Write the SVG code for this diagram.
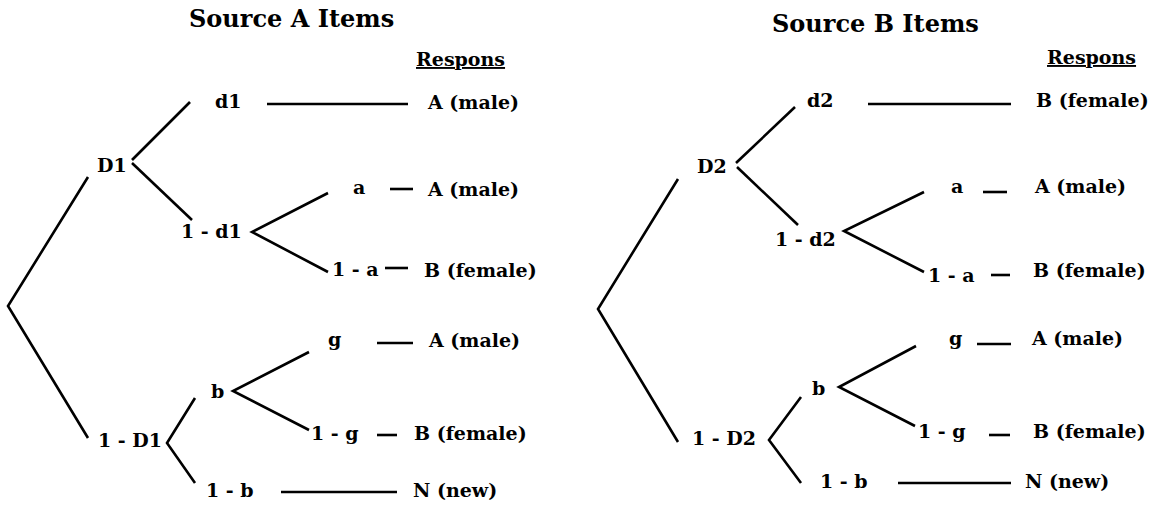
<svg xmlns="http://www.w3.org/2000/svg" width="1159" height="506" viewBox="0 0 1159 506">
  <style>
    .title { font-family: "DejaVu Serif", "Liberation Serif", serif; font-weight: bold; font-size: 24px; fill: #000; }
    .lbl { font-family: "DejaVu Serif", "Liberation Serif", serif; font-weight: bold; font-size: 19px; fill: #000; }
    .hdr { text-decoration: underline; }
    .edge { stroke: #000; stroke-width: 2.6; fill: none; stroke-linecap: butt; stroke-linejoin: miter; }
  </style>
  <rect width="1159" height="506" fill="#fff"/>

  <!-- Source A tree -->
  <g id="treeA">
    <text id="titleA" class="title" x="189" y="27">Source A Items</text>
    <text id="responsA" class="lbl hdr" x="416" y="66">Respons</text>

    <g id="connectorsA">
      <polyline class="edge" points="88,177 8,306 88,438"/>
      <line class="edge" x1="132" y1="160" x2="190" y2="102"/>
      <line class="edge" x1="132" y1="163" x2="192" y2="220"/>
      <polyline class="edge" points="328,193 252,232 328,272"/>
      <line class="edge" x1="267" y1="104" x2="408" y2="104"/>
      <line class="edge" x1="390" y1="189" x2="413" y2="189"/>
      <line class="edge" x1="385" y1="268" x2="408" y2="268"/>
      <polyline class="edge" points="195,398 167,443 195,483"/>
      <polyline class="edge" points="309,352 233,391 309,430"/>
      <line class="edge" x1="377" y1="343" x2="413" y2="343"/>
      <line class="edge" x1="377" y1="435" x2="397" y2="435"/>
      <line class="edge" x1="281" y1="492" x2="397" y2="492"/>
    </g>

    <g id="A-D1"><text class="lbl" x="97" y="172">D1</text></g>
    <g id="A-d1"><text class="lbl" x="215" y="108">d1</text></g>
    <g id="A-1-d1"><text class="lbl" x="181" y="238">1 - d1</text></g>
    <g id="A-a"><text class="lbl" x="353" y="194">a</text></g>
    <g id="A-1-a"><text class="lbl" x="332" y="276">1 - a</text></g>
    <g id="A-1-D1"><text class="lbl" x="98" y="447">1 - D1</text></g>
    <g id="A-b"><text class="lbl" x="211" y="398">b</text></g>
    <g id="A-g"><text class="lbl" x="328" y="346">g</text></g>
    <g id="A-1-g"><text class="lbl" x="311" y="440">1 - g</text></g>
    <g id="A-1-b"><text class="lbl" x="206" y="497">1 - b</text></g>

    <g id="A-r1"><text class="lbl" x="428" y="109">A (male)</text></g>
    <g id="A-r2"><text class="lbl" x="428" y="196">A (male)</text></g>
    <g id="A-r3"><text class="lbl" x="424" y="277">B (female)</text></g>
    <g id="A-r4"><text class="lbl" x="429" y="347">A (male)</text></g>
    <g id="A-r5"><text class="lbl" x="414" y="440">B (female)</text></g>
    <g id="A-r6"><text class="lbl" x="413" y="497">N (new)</text></g>
  </g>

  <!-- Source B tree -->
  <g id="treeB">
    <text id="titleB" class="title" x="772" y="32">Source B Items</text>
    <text id="responsB" class="lbl hdr" x="1047" y="64">Respons</text>

    <g id="connectorsB">
      <polyline class="edge" points="678,179 598,309 678,442"/>
      <line class="edge" x1="736" y1="163" x2="795" y2="107"/>
      <line class="edge" x1="737" y1="167" x2="798" y2="225"/>
      <polyline class="edge" points="924,192 844,231 924,272"/>
      <line class="edge" x1="868" y1="104" x2="1011" y2="104"/>
      <line class="edge" x1="983" y1="192" x2="1007" y2="192"/>
      <line class="edge" x1="991" y1="275" x2="1010" y2="275"/>
      <polyline class="edge" points="801,397 769,440 801,483"/>
      <polyline class="edge" points="916,346 839,387 915,426"/>
      <line class="edge" x1="977" y1="344" x2="1011" y2="344"/>
      <line class="edge" x1="989" y1="435" x2="1010" y2="435"/>
      <line class="edge" x1="898" y1="483" x2="1011" y2="483"/>
    </g>

    <g id="B-D2"><text class="lbl" x="697" y="173">D2</text></g>
    <g id="B-d2"><text class="lbl" x="807" y="107">d2</text></g>
    <g id="B-1-d2"><text class="lbl" x="775" y="246">1 - d2</text></g>
    <g id="B-a"><text class="lbl" x="951" y="193">a</text></g>
    <g id="B-1-a"><text class="lbl" x="928" y="282">1 - a</text></g>
    <g id="B-1-D2"><text class="lbl" x="692" y="445">1 - D2</text></g>
    <g id="B-b"><text class="lbl" x="812" y="395">b</text></g>
    <g id="B-g"><text class="lbl" x="949" y="345">g</text></g>
    <g id="B-1-g"><text class="lbl" x="918" y="438">1 - g</text></g>
    <g id="B-1-b"><text class="lbl" x="820" y="488">1 - b</text></g>

    <g id="B-r1"><text class="lbl" x="1036" y="107">B (female)</text></g>
    <g id="B-r2"><text class="lbl" x="1035" y="193">A (male)</text></g>
    <g id="B-r3"><text class="lbl" x="1033" y="277">B (female)</text></g>
    <g id="B-r4"><text class="lbl" x="1032" y="345">A (male)</text></g>
    <g id="B-r5"><text class="lbl" x="1033" y="438">B (female)</text></g>
    <g id="B-r6"><text class="lbl" x="1025" y="488">N (new)</text></g>
  </g>
</svg>
